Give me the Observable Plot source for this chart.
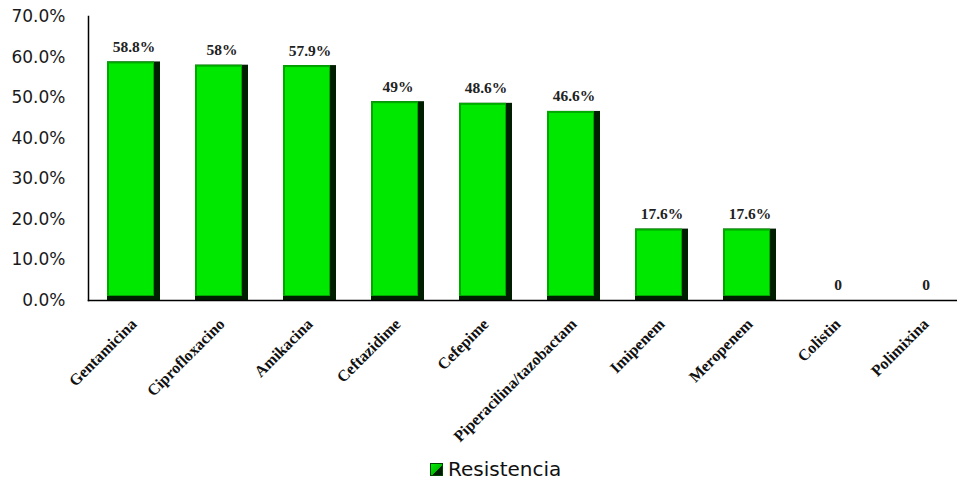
<!DOCTYPE html>
<html>
<head>
<meta charset="utf-8">
<script src="https://cdn.jsdelivr.net/npm/d3@7"></script>
<script src="https://cdn.jsdelivr.net/npm/@observablehq/plot@0.6"></script>
<style>
  body { margin: 0; background: #fff; }
  #chart { position: relative; width: 957px; height: 488px; }
  #legend { position: absolute; left: 430px; top: 457px; display: flex; align-items: center;
    font-family: "DejaVu Sans", Verdana, sans-serif; font-size: 20px; color: #111; }
  #legend .sw { width: 11px; height: 11px; margin-right: 5px; background: linear-gradient(135deg, #00ee00 0%, #00c000 55%, #002200 56%, #001800 100%); border: 1px solid #004400; }
</style>
</head>
<body>
<div id="chart"></div>
<script>
const categories = ["Gentamicina", "Ciprofloxacino", "Amikacina", "Ceftazidime", "Cefepime",
  "Piperacilina/tazobactam", "Imipenem", "Meropenem", "Colistin", "Polimixina"];
const values = [58.8, 58, 57.9, 49, 48.6, 46.6, 17.6, 17.6, 0, 0];
const valueLabels = ["58.8%", "58%", "57.9%", "49%", "48.6%", "46.6%", "17.6%", "17.6%", "0", "0"];
const yTicks = [0, 10, 20, 30, 40, 50, 60, 70];
const seriesName = "Resistencia";

const data = categories.map((c, i) => ({name: c, value: values[i], label: valueLabels[i]}));
const bars = data.filter(d => d.value > 0);

const plot = Plot.plot({
  width: 957,
  height: 445,
  marginLeft: 88,
  marginRight: 0,
  marginTop: 16,
  marginBottom: 145,
  x: {domain: categories, range: [88, 970], paddingInner: 0.4, paddingOuter: 0.2, axis: null, label: null},
  y: {domain: [0, 70], axis: null, label: null},
  marks: [
    Plot.barY(bars, {x: "name", y: "value", fill: "#001f00"}),
    Plot.barY(bars, {x: "name", y: "value", fill: "#00a800", insetRight: 6, insetBottom: 4}),
    Plot.barY(bars, {x: "name", y: "value", fill: "#00e800", insetLeft: 2, insetRight: 7, insetTop: 2, insetBottom: 5}),
    Plot.axisY({ticks: yTicks, tickSize: 0, tickPadding: 23, label: null, tickFormat: d => d.toFixed(1) + "%",
      fontFamily: "DejaVu Sans, Verdana, sans-serif", fontSize: 17, fill: "#1a1a1a"}),
    Plot.frame({anchor: "left", stroke: "#000", strokeWidth: 1.5}),
    Plot.frame({anchor: "bottom", stroke: "#000", strokeWidth: 1.5}),
    Plot.text(data, {x: "name", y: "value", text: "label", dy: -15,
      fontFamily: "Liberation Serif, Times New Roman, serif", fontWeight: "bold", fontSize: 15.5, fill: "#222"}),
    Plot.text(data, {x: "name", y: 0, text: "name", rotate: -45, textAnchor: "end", dx: 0, dy: 21,
      fontFamily: "Liberation Serif, Times New Roman, serif", fontWeight: "bold", fontSize: 16, fill: "#111"})
  ]
});
const chart = document.getElementById("chart");
chart.appendChild(plot);
const legend = document.createElement("div");
legend.id = "legend";
legend.innerHTML = '<span class="sw"></span><span></span>';
legend.lastChild.textContent = seriesName;
chart.appendChild(legend);
</script>
</body>
</html>
